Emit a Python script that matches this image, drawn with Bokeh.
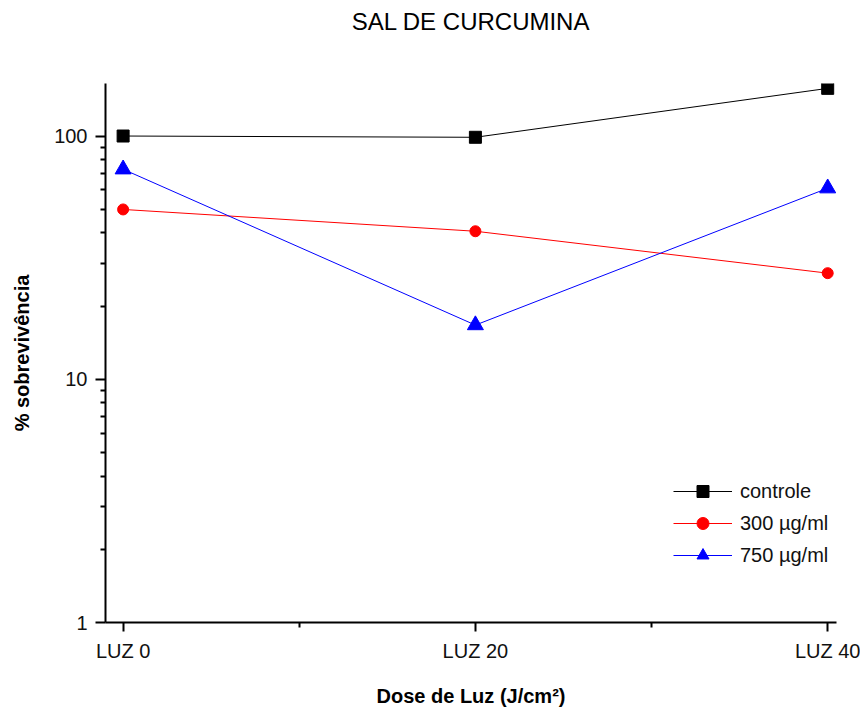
from bokeh.plotting import figure
from bokeh.models import Range1d, FixedTicker, Legend, LegendItem, NumeralTickFormatter, Title
from bokeh.embed import file_html
from bokeh.resources import INLINE

# ---- data ----
doses = [0, 20, 40]
dose_labels = ["LUZ 0", "LUZ 20", "LUZ 40"]
controle = [100, 98.8, 157]
s300 = [49.9, 40.6, 27.3]
s750 = [73, 16.7, 61]
series_names = ["controle", "300 µg/ml", "750 µg/ml"]
y_major = [1, 10, 100]
y_minor = [2, 3, 4, 5, 6, 7, 8, 9, 20, 30, 40, 50, 60, 70, 80, 90]
x_minor = [10, 30]
title_text = "SAL DE CURCUMINA"

FONT = "Liberation Sans"

p = figure(width=860, height=710, output_backend="svg", toolbar_location=None,
           y_axis_type="log",
           x_range=Range1d(-1.0, 40.5), y_range=Range1d(1, 164.4),
           min_border_left=105, min_border_right=24, min_border_top=83, min_border_bottom=88)

p.title.text = title_text
p.title.align = "center"
p.title.vertical_align = "top"
p.title.text_font = FONT
p.title.text_font_style = "normal"
p.title.text_font_size = "24px"
p.title.text_color = "black"
p.title.standoff = 12

# blank spacer panel between the title and the plot frame
spacer = Title(text=" ", text_font_size="10px", standoff=28)
p.add_layout(spacer, "above")

p.outline_line_color = None
p.xgrid.visible = False
p.ygrid.visible = False
p.background_fill_color = "white"
p.border_fill_color = "white"

l1 = p.line(doses, controle, line_color="black", line_width=1)
m1 = p.scatter(doses, controle, marker="square", size=12, fill_color="black", line_color="black")
l2 = p.line(doses, s300, line_color="#ff0000", line_width=1)
m2 = p.scatter(doses, s300, marker="circle", size=11, fill_color="#ff0000", line_color="#ff0000")
l3 = p.line(doses, s750, line_color="#0000ff", line_width=1)
m3 = p.scatter(doses, s750, marker="triangle", size=16, fill_color="#0000ff", line_color="#0000ff")

# axes
xa = p.xaxis[0]
xa.ticker = FixedTicker(ticks=doses, minor_ticks=x_minor)
xa.major_label_overrides = {d: lab for d, lab in zip(doses, dose_labels)}
xa.axis_label = "Dose de Luz (J/cm²)"
ya = p.yaxis[0]
ya.ticker = FixedTicker(ticks=y_major, minor_ticks=y_minor)
ya.formatter = NumeralTickFormatter(format="0")
ya.axis_label = "% sobrevivência"

for ax in (xa, ya):
    ax.axis_line_width = 2
    ax.axis_line_color = "black"
    ax.major_tick_line_width = 2
    ax.minor_tick_line_width = 2
    ax.major_tick_line_color = "black"
    ax.minor_tick_line_color = "black"
    ax.major_tick_in = 0
    ax.minor_tick_in = 0
    ax.minor_tick_out = 5
    ax.major_label_text_font = FONT
    ax.major_label_text_font_size = "20px"
    ax.major_label_text_color = "#111111"
    ax.axis_label_text_font = FONT
    ax.axis_label_text_font_style = "bold"
    ax.axis_label_text_font_size = "20px"
    ax.axis_label_text_color = "black"

xa.major_tick_out = 9
xa.major_label_standoff = 8
xa.axis_label_standoff = 20
ya.major_tick_out = 10
ya.major_label_standoff = 8
ya.axis_label_standoff = 18

legend = Legend(items=[
    LegendItem(label=series_names[0], renderers=[l1, m1]),
    LegendItem(label=series_names[1], renderers=[l2, m2]),
    LegendItem(label=series_names[2], renderers=[l3, m3]),
], location=(568, 52))
legend.border_line_color = None
legend.background_fill_alpha = 0
legend.padding = 0
legend.margin = 0
legend.spacing = 2
legend.glyph_width = 59
legend.glyph_height = 30
legend.label_height = 30
legend.label_standoff = 8
legend.label_text_font = FONT
legend.label_text_font_size = "20px"
legend.label_text_color = "#111111"
p.add_layout(legend)

open("out.html", "w").write(file_html(p, INLINE))
